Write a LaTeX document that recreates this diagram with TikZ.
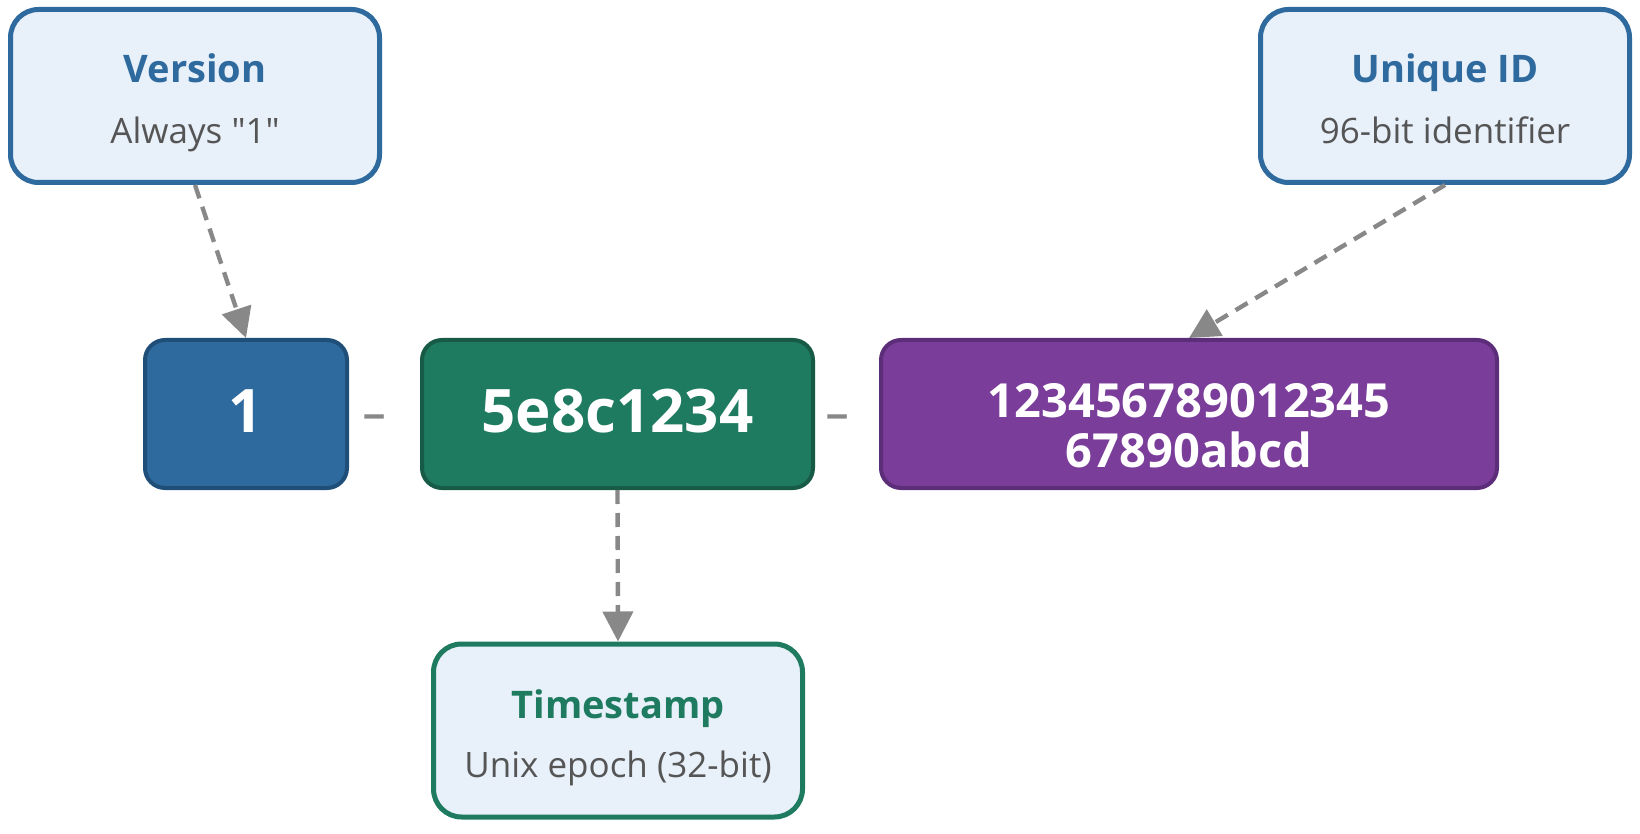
\documentclass[tikz,border=0pt]{standalone}
\usepackage{fontspec}
\setmainfont{Open Sans}[Ligatures=TeXOff]
\usetikzlibrary{arrows.meta}
\definecolor{lightfill}{HTML}{E8F0FA}
\definecolor{cblue}{HTML}{2E6A9E}
\definecolor{cbluedk}{HTML}{1F4E79}
\definecolor{cgreen}{HTML}{1E7B5F}
\definecolor{cgreendk}{HTML}{175A45}
\definecolor{cpurple}{HTML}{7B3D9A}
\definecolor{cpurpledk}{HTML}{5C2D78}
\definecolor{subgray}{HTML}{555555}
\definecolor{arrgray}{HTML}{888888}
\begin{document}
\begin{tikzpicture}[x=0.5pt,y=-0.5pt,
  lightbox/.style={draw=#1, line width=2.5pt, fill=lightfill, rounded corners=14pt,
    minimum width=184.5pt, minimum height=86.5pt, inner sep=0pt},
  valbox/.style n args={3}{draw=#2, fill=#1, line width=2pt, rounded corners=10pt,
    minimum width=#3, minimum height=74pt, inner sep=0pt},
  ttl/.style={anchor=base, inner sep=0pt, text=#1, font=\fontsize{19pt}{22pt}\selectfont\bfseries},
  sub/.style={anchor=base, inner sep=0pt, text=subgray, font=\fontsize{17.5pt}{21pt}\selectfont},
  bigval/.style={anchor=base, inner sep=0pt, text=white, font=\fontsize{30pt}{34pt}\selectfont\bfseries},
  midval/.style={anchor=base, inner sep=0pt, text=white, font=\fontsize{23.5pt}{27pt}\selectfont\bfseries},
  sepmark/.style={anchor=base, inner sep=0pt, text=arrgray, font=\fontsize{29pt}{34pt}\selectfont},
  conn/.style={draw=arrgray, line width=2.2pt, dash pattern=on 7pt off 4.5pt,
    -{Triangle[length=15pt,width=15pt]}}
]
\useasboundingbox (0,0) rectangle (1640,834);

% annotation boxes
\node[lightbox=cblue] (ver) at (195,96) {};
\node[ttl=cblue] (vert) at (195,83) {Version};
\node[sub] (vers) at (195,144) {Always "1"};

\node[lightbox=cblue] (uid) at (1445,96) {};
\node[ttl=cblue] (uidt) at (1445,83) {Unique ID};
\node[sub] (uids) at (1445,144) {96-bit identifier};

\node[lightbox=cgreen] (ts) at (618,730.5) {};
\node[ttl=cgreen] (tst) at (618,718) {Timestamp};
\node[sub] (tss) at (618,777) {Unix epoch (32-bit)};

% value boxes
\node[valbox={cblue}{cbluedk}{101pt}] (one) at (246,414) {};
\node[bigval] (onet) at (246,432) {1};

\node[valbox={cgreen}{cgreendk}{195.5pt}] (grn) at (617.5,414) {};
\node[bigval] (grnt) at (617.5,432) {5e8c1234};

\node[valbox={cpurple}{cpurpledk}{308pt}] (pur) at (1189,414) {};
\node[midval] (purt1) at (1189,417) {123456789012345};
\node[midval] (purt2) at (1189,467) {67890abcd};

% separators
\node[sepmark] (sep1) at (375,432) {\scalebox{1.4}[1]{-}};
\node[sepmark] (sep2) at (838,432) {\scalebox{1.4}[1]{-}};

% connectors
\draw[conn] (ver.south) -- (one.north);
\draw[conn] (uid.south) -- (pur.north);
\draw[conn] (grn.south) -- (ts.north);
\end{tikzpicture}
\end{document}
